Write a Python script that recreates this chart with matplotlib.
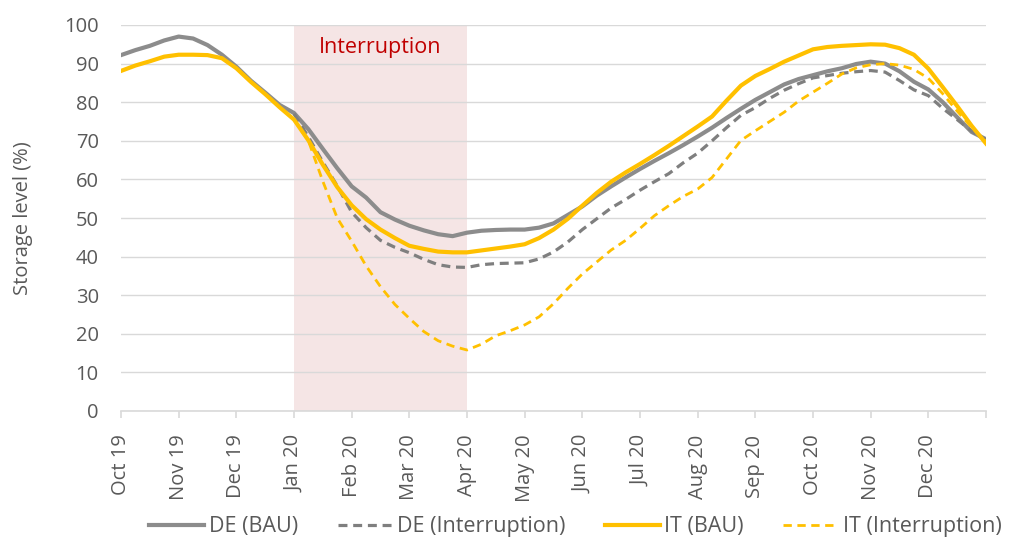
import numpy as np
import matplotlib
matplotlib.use("Agg")
import matplotlib.pyplot as plt

plt.rcParams['font.family'] = ['Open Sans', 'DejaVu Sans']

# Month labels (ticks at start of each month, Oct 2019 = 0)
month_labels = ["Oct 19", "Nov 19", "Dec 19", "Jan 20", "Feb 20", "Mar 20", "Apr 20",
                "May 20", "Jun 20", "Jul 20", "Aug 20", "Sep 20", "Oct 20", "Nov 20", "Dec 20"]

# sample positions in months since 1 Oct 2019 (quarter-month steps)
x_bau = np.arange(0, 15.001, 0.25)
x_int = np.arange(3, 15.001, 0.25)

de_bau = [92.2, 93.5, 94.6, 96.0, 97.0, 96.5, 94.8, 92.3, 89.2, 85.6, 82.5, 79.3,
          77.2, 73.0, 67.9, 62.9,
          58.2, 55.3, 51.5, 49.6,
          48.0, 46.8, 45.8, 45.3,
          46.2, 46.7, 46.9, 47.0,
          47.0, 47.5, 48.6, 50.8,
          53.0, 55.8, 58.2, 60.5,
          62.7, 64.8, 66.8, 68.9,
          71.1, 73.4, 75.9, 78.3,
          80.6, 82.6, 84.6, 86.0,
          87.0, 88.0, 88.8, 89.9,
          90.5, 90.0, 88.0, 85.3,
          83.3, 80.0, 76.1, 72.3,
          70.4]

it_bau = [88.1, 89.5, 90.6, 91.8, 92.3, 92.3, 92.2, 91.4, 88.8, 85.3, 82.1, 78.7,
          75.5, 70.1, 63.8, 58.0,
          53.3, 49.7, 47.0, 44.8,
          42.8, 42.0, 41.3, 41.1,
          41.1, 41.6, 42.1, 42.6,
          43.2, 44.8, 47.0, 49.8,
          53.2, 56.5, 59.4, 61.8,
          64.0, 66.3, 68.7, 71.2,
          73.7, 76.3, 80.4, 84.3,
          86.8, 88.6, 90.5, 92.1,
          93.7, 94.3, 94.6, 94.8,
          95.0, 94.9, 94.0, 92.3,
          88.7, 83.9, 79.0, 73.9,
          69.3]

de_int = [77.0,
          71.0, 64.5, 58.3, 51.5,
          47.5, 44.2, 42.4, 41.0,
          39.3, 37.9, 37.3, 37.2,
          37.9, 38.2, 38.3, 38.4,
          39.4, 41.2, 43.8, 47.0,
          49.8, 52.6, 54.8, 57.2,
          59.4, 61.5, 64.3, 66.8,
          70.0, 73.4, 76.6, 78.6,
          81.0, 83.1, 84.8, 86.3,
          86.9, 87.5, 87.9, 88.2,
          87.8, 85.6, 83.2, 81.7,
          78.4, 75.5, 72.5, 70.2]

it_int = [75.5,
          70.0, 59.5, 50.0, 44.0,
          37.6, 32.2, 27.6, 24.0,
          20.6, 18.2, 16.8, 15.8,
          17.3, 19.5, 20.8, 22.3,
          24.4, 27.8, 31.8, 35.5,
          38.6, 41.7, 44.2, 47.3,
          50.6, 53.2, 55.6, 57.5,
          60.5, 65.3, 70.1, 72.6,
          75.0, 77.4, 80.3, 82.6,
          84.9, 87.3, 88.9, 89.7,
          90.0, 89.6, 88.5, 86.2,
          82.2, 77.7, 73.5, 69.8]

interruption_start, interruption_end = 3, 6

GRAY = "#8C8C8C"
GRAY_D = "#7F7F7F"
YEL = "#FFC000"
TXT = "#595959"

fig = plt.figure(figsize=(10.13, 5.41), dpi=100)
ax = fig.add_axes([121/1013, 1 - 411/541, (986-121)/1013, (411-25)/541])

ax.axvspan(interruption_start, interruption_end, color="#F5E5E5", zorder=0, lw=0)
ax.text((interruption_start + interruption_end) / 2, 94.3, "Interruption",
        color="#C00000", fontsize=15.5, ha="center", va="center")

ax.plot(x_bau, de_bau, color=GRAY, lw=3.0, label="DE (BAU)", zorder=3,
        solid_joinstyle="round")
ax.plot(x_int, de_int, color=GRAY_D, lw=2.3, dashes=(2.8, 1.8), label="DE (Interruption)", zorder=3)
ax.plot(x_bau, it_bau, color=YEL, lw=3.0, label="IT (BAU)", zorder=4,
        solid_joinstyle="round")
ax.plot(x_int, it_int, color=YEL, lw=2.0, dashes=(3, 2), label="IT (Interruption)", zorder=4)

ax.set_xlim(0, 15)
ax.set_ylim(0, 100)
ax.set_yticks(np.arange(0, 101, 10))
ax.grid(axis="y", color="#D9D9D9", lw=1.0, zorder=1)
ax.set_axisbelow(True)

ax.set_xticks(np.arange(0, 16, 1))
ax.set_xticklabels(month_labels + [""], rotation=90, va="top", ha="center")

for s in ["top", "right", "left"]:
    ax.spines[s].set_visible(False)
ax.spines["bottom"].set_color("#D9D9D9")
ax.spines["bottom"].set_linewidth(1.2)

ax.tick_params(axis="y", length=0, pad=16, labelsize=14.5, labelcolor=TXT)
ax.tick_params(axis="x", length=5, width=1.2, color="#D9D9D9", pad=12,
               labelsize=14.5, labelcolor=TXT)

ax.set_ylabel("Storage level (%)", fontsize=14.5, color=TXT)
ax.yaxis.set_label_coords(-0.102, 0.5)

leg = fig.legend(loc="center", bbox_to_anchor=(0.568, 0.026), ncol=4, frameon=False,
                 fontsize=15.5, handlelength=2.55, handletextpad=0.2,
                 columnspacing=1.85, labelcolor=TXT)

fig.savefig("out.png", dpi=100)
